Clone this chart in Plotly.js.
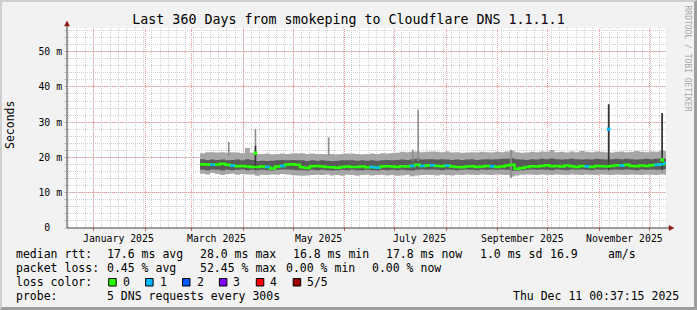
<!DOCTYPE html>
<html><head><meta charset="utf-8">
<script src="https://cdn.plot.ly/plotly-3.0.1.min.js"></script>
<style>
html,body{margin:0;padding:0;background:#f2f2f2;}
#wrap{position:relative;width:697px;height:310px;overflow:hidden;}
#chart{position:absolute;left:0;top:0;width:697px;height:310px;}
#frame{position:absolute;left:0;top:0;width:697px;height:310px;box-sizing:border-box;border-top:2px solid #cfcfcf;border-left:2px solid #cfcfcf;border-right:3px solid #9e9e9e;border-bottom:3px solid #9e9e9e;pointer-events:none;}
#chart .layer-below .shapelayer path{shape-rendering:crispEdges !important;}
#chart .gridlayer path{shape-rendering:crispEdges !important;}
</style></head><body>
<div id="wrap"><div id="chart"></div><div id="frame"></div></div>
<script>
// ---- data (ms) ----
const sampleStart = '2025-03-06';
const sampleStepDays = 3;
const rttOuterHigh = [21.2,21.5,21.5,21.4,21.5,21.3,21.5,21.4,21.2,22.7,
  21.3,21.0,21.0,21.1,20.9,21.0,21.1,21.0,21.1,21.2,
  21.2,21.0,21.1,21.0,21.0,20.9,21.0,20.9,21.0,21.1,
  21.1,21.0,20.9,21.0,21.1,21.0,21.2,21.1,21.2,21.3,
  21.6,21.5,21.6,21.7,21.5,21.6,21.7,21.6,21.5,21.7,
  21.4,21.5,21.3,21.4,21.5,21.4,21.6,21.5,21.4,21.6,
  21.5,21.7,22.0,21.5,21.3,21.4,21.6,21.5,21.7,21.6,
  22.1,21.5,21.6,21.4,21.7,21.5,21.8,21.6,21.5,21.7,
  21.6,21.5,21.4,21.6,21.7,21.5,21.6,21.8,21.6,21.5,
  21.7,21.6,22.0,21.8];
const rttOuterLow = [15.4,15.2,15.6,15.3,15.0,15.3,15.4,15.1,15.3,15.2,
  15.2,14.8,15.1,15.0,15.2,15.1,15.3,15.2,15.0,14.9,
  14.8,14.9,15.0,15.1,15.0,15.2,14.9,15.0,14.8,15.1,
  15.0,14.8,15.0,15.1,14.9,15.0,15.1,14.9,15.0,14.8,
  14.9,15.0,14.7,14.9,15.0,15.1,15.0,14.9,15.1,15.0,
  14.9,15.1,15.0,15.2,15.1,15.0,15.2,15.1,15.0,15.2,
  15.1,15.0,14.6,14.9,15.1,15.2,15.1,15.0,15.2,15.1,
  15.0,15.2,15.1,15.0,15.2,15.1,15.0,15.2,15.1,15.0,
  15.2,15.1,15.0,15.2,15.1,15.0,15.2,15.1,15.0,15.2,
  15.1,15.0,15.2,15.1];
const rttInnerHigh = [19.5,19.3,19.4,19.3,19.4,19.2,19.3,19.4,19.2,19.5,
  19.3,19.0,19.1,19.0,19.1,19.2,19.3,19.2,19.3,19.2,
  19.2,19.0,19.2,19.1,19.2,19.1,19.0,19.1,19.2,19.2,
  19.2,19.1,19.2,19.1,19.2,19.1,19.2,19.3,19.2,19.3,
  19.4,19.3,19.5,19.6,19.4,19.5,19.5,19.4,19.5,19.4,
  19.3,19.4,19.3,19.4,19.5,19.3,19.4,19.5,19.4,19.5,
  19.6,19.6,19.8,19.5,19.4,19.3,19.5,19.4,19.6,19.5,
  19.7,19.5,19.4,19.5,19.6,19.5,19.4,19.5,19.4,19.6,
  19.5,19.4,19.5,19.6,19.5,19.6,19.5,19.4,19.5,19.6,
  19.5,19.6,19.7,19.6];
const rttInnerLow = [16.5,16.4,16.6,16.5,16.3,16.5,16.4,16.5,16.6,16.4,
  16.5,16.4,16.5,16.4,16.3,16.5,16.6,16.6,16.5,16.4,
  16.4,16.3,16.5,16.4,16.5,16.4,16.3,16.4,16.5,16.4,
  16.5,16.4,16.4,16.5,16.4,16.3,16.5,16.4,16.5,16.4,
  16.5,16.4,16.3,16.5,16.6,16.5,16.6,16.5,16.4,16.6,
  16.5,16.4,16.5,16.6,16.5,16.4,16.6,16.5,16.6,16.5,
  16.6,16.5,16.2,16.3,16.4,16.5,16.6,16.5,16.6,16.5,
  16.4,16.6,16.5,16.4,16.6,16.5,16.6,16.5,16.4,16.6,
  16.5,16.6,16.5,16.6,16.5,16.6,16.5,16.4,16.6,16.5,
  16.6,16.5,16.6,16.7];
const rttMedian = [18.1,18.0,17.9,18.0,18.2,17.9,17.7,17.5,17.6,17.4,
  17.3,17.3,17.4,17.3,16.9,17.4,17.6,18.0,18.1,17.9,
  17.2,17.0,17.5,17.6,17.4,17.3,17.2,17.1,17.3,17.4,
  17.3,17.3,17.4,17.2,17.3,17.1,17.4,17.5,17.4,17.3,
  17.5,17.4,17.6,17.9,17.6,17.7,17.8,17.6,17.5,17.7,
  17.4,17.3,17.2,17.4,17.5,17.3,17.4,17.6,17.5,17.3,
  17.4,17.7,17.9,16.8,17.0,17.3,17.5,17.4,17.6,17.8,
  17.5,17.6,17.4,17.7,17.5,17.3,17.6,17.5,17.3,17.6,
  17.5,17.4,17.6,17.8,17.7,17.9,17.6,17.5,17.7,17.6,
  17.8,17.9,18.1,18.4];
const lossLevel = [0,0,1,0,0,0,1,0,0,0,
  0,0,0,1,0,0,1,0,0,0,
  0,0,0,0,0,0,0,0,0,0,
  0,0,0,0,1,1,0,0,0,0,
  0,0,1,0,1,0,1,0,0,1,
  0,0,0,0,0,0,0,0,1,0,
  0,0,0,0,0,0,0,0,0,0,
  0,0,0,0,0,0,0,1,0,0,
  0,0,0,0,1,0,0,0,0,0,
  0,1,1,1];
// isolated spikes
const spikeDates = ['2025-03-23 06:00','2025-04-08 07:00','2025-05-22 07:00','2025-07-11 19:00','2025-07-15 02:00','2025-09-08 22:00','2025-11-06 14:00','2025-12-08 17:00'];
const spikeLow = [20.5,15.5,20.5,19.0,19.0,14.2,16.0,16.0];
const spikeGrayTop = [24.4,28.1,25.7,22.2,33.5,22.2,35.2,32.6];
const spikeDarkTop = [null,23.3,null,null,null,null,35.0,32.6];
const spikeMedian = [null,21.2,null,null,null,null,28.0,19.3];
const spikeLoss = [0,0,0,0,0,0,1,0];

const lossColors = ['#26ff00','#00b8ff','#0059ff','#7e00ff','#ff0000','#a10000'];
const lossNames = ['0','1','2','3','4','5/5'];

const rangeStart = '2024-12-16 00:37:15';
const rangeEnd = '2025-12-11 00:37:15';
const monthGrid = ['2025-01-01','2025-02-01','2025-03-01','2025-04-01','2025-05-01','2025-06-01','2025-07-01','2025-08-01','2025-09-01','2025-10-01','2025-11-01','2025-12-01'];
const monthLabelDates = ['2025-01-16','2025-03-16','2025-05-16','2025-07-16','2025-09-16','2025-11-16'];
const monthLabels = ['January 2025','March 2025','May 2025','July 2025','September 2025','November 2025'];
const yMajorVals = [10,20,30,40,50];
const yTickVals = [0,2,4,6,8,10,12,14,16,18,20,22,24,26,28,30,32,34,36,38,40,42,44,46,48,50,52,54,56];
const yTickText = ['0\u00a0\u00a0','','','','','10 m','','','','','20 m','','','','','30 m','','','','','40 m','','','','','50 m','','',''];

const titleText = 'Last 360 Days from smokeping to Cloudflare DNS 1.1.1.1';
const rttRow = ['median rtt:','17.6 ms avg','28.0 ms max','16.8 ms min','17.8 ms now','1.0 ms sd','16.9','am/s'];
const lossRow = ['packet loss:','0.45 % avg','52.45 % max','0.00 % min','0.00 % now'];
const probeRow = ['probe:','5 DNS requests every 300s'];
const stampText = 'Thu Dec 11 00:37:15 2025';

// ---- build ----
function dayAdd(s,d){ const t = Date.parse(s+'T00:00:00Z') + d*864e5; return new Date(t).toISOString().slice(0,19).replace('T',' '); }
const n = rttMedian.length;
const dates = [];
for (let k=0;k<=n;k++) dates.push(dayAdd(sampleStart, k*sampleStepDays));
const ext = a => a.concat([a[a.length-1]]);

const L = 67, R = 31, T = 28, B = 82, W = 697, H = 310;
const PW = W-L-R, PH = H-T-B;
const px = x => (x-L)/PW;
const py = y => (H-B-y)/PH;

const MONO = 'DejaVu Sans Mono';
const light = '#a6a6a6', dark = '#5a5a5a';
const step = {shape:'hv', width:0};

const traces = [
  {x:dates, y:ext(rttOuterLow), mode:'lines', line:step, hoverinfo:'skip', showlegend:false},
  {x:dates, y:ext(rttOuterHigh), mode:'lines', line:step, fill:'tonexty', fillcolor:light, hoverinfo:'skip', showlegend:false},
  {x:dates, y:ext(rttInnerLow), mode:'lines', line:step, hoverinfo:'skip', showlegend:false},
  {x:dates, y:ext(rttInnerHigh), mode:'lines', line:step, fill:'tonexty', fillcolor:dark, hoverinfo:'skip', showlegend:false}
];
// spikes
const sgx=[], sgy=[], sdx=[], sdy=[];
spikeDates.forEach((d,i)=>{
  sgx.push(d,d,null); sgy.push(spikeLow[i], spikeGrayTop[i], null);
  if (spikeDarkTop[i]!==null){ sdx.push(d,d,null); sdy.push(16.5, spikeDarkTop[i], null); }
});
traces.push({x:sgx, y:sgy, mode:'lines', line:{color:'#8c8c8c', width:1.6}, hoverinfo:'skip', showlegend:false});
traces.push({x:sdx, y:sdy, mode:'lines', line:{color:'#333333', width:1.6}, hoverinfo:'skip', showlegend:false});
// median
traces.push({x:dates, y:ext(rttMedian), mode:'lines', line:{shape:'hv', color:lossColors[0], width:2.5}, hoverinfo:'skip', showlegend:false});
for (let lv=1; lv<lossColors.length; lv++){
  const xs=[], ys=[];
  for (let k=0;k<n;k++) if (lossLevel[k]===lv){ xs.push(dates[k], dates[k+1], null); ys.push(rttMedian[k], rttMedian[k], null); }
  if (xs.length) traces.push({x:xs, y:ys, mode:'lines', line:{color:lossColors[lv], width:2.5}, hoverinfo:'skip', showlegend:false});
}
// spike medians
const smx=[], smy=[], smc=[];
spikeDates.forEach((d,i)=>{ if (spikeMedian[i]!==null){ smx.push(d); smy.push(spikeMedian[i]); smc.push(lossColors[spikeLoss[i]]); }});
traces.push({x:smx, y:smy, mode:'markers', marker:{symbol:'square', size:3.5, color:smc, line:{width:0}}, hoverinfo:'skip', showlegend:false});

// annotations
const ann = [];
const txt = (x,y,t,size,extra) => ann.push(Object.assign({xref:'paper', yref:'paper', x:px(x), y:py(y), text:t, showarrow:false, xanchor:'left', yanchor:'middle', borderpad:0, font:{family:MONO, size:size, color:'#000'}}, extra||{}));
monthLabelDates.forEach((d,i)=> ann.push({xref:'x', yref:'paper', x:d, y:py(238), text:monthLabels[i], showarrow:false, xanchor:'center', yanchor:'middle', borderpad:0, font:{family:MONO, size:9.8, color:'#000'}}));
txt(10,125,'Seconds',11.5,{xanchor:'center', textangle:-90});
txt(687,58.5,'RRDTOOL / TOBI OETIKER',8,{xanchor:'center', textangle:90, font:{family:MONO, size:8, color:'#a8a8a8'}});
const rttX = [16,107.3,200,293.3,385.7,480,550,608.3];
rttRow.forEach((t,i)=>txt(rttX[i]-1,254.3,t,11.5));
const lossX = [16,107.3,200,286,372.3];
lossRow.forEach((t,i)=>txt(lossX[i]-1,267.7,t,11.5));
txt(15,282.3,'loss color:',11.5);
const shapes = [];
const majorGrid = '#f29c9c', minorGrid = '#d0d0d0';
// month (major) grid lines and ticks, placed on the date axis
monthGrid.forEach(d=>{
  shapes.push({type:'line', layer:'below', xref:'x', yref:'paper', x0:d, x1:d, y0:0, y1:1, line:{color:majorGrid, width:1, dash:'1px,1px'}});
  shapes.push({type:'line', layer:'below', xref:'x', yref:'paper', x0:d, x1:d, y0:0, y1:-3/PH, line:{color:'#d06060', width:1}});
});
yMajorVals.forEach(v=>{
  shapes.push({type:'line', layer:'below', xref:'paper', yref:'y', x0:-3/PW, x1:1, y0:v, y1:v, line:{color:majorGrid, width:1, dash:'1px,1px'}});
});
lossColors.forEach((c,i)=>{
  const bx = 108.7 + i*36.9;
  shapes.push({type:'rect', xref:'paper', yref:'paper', x0:px(bx), x1:px(bx+7.5), y0:py(286), y1:py(278.5), fillcolor:c, line:{color:'#000', width:1}});
  txt(bx+13,282.3,lossNames[i],11.5);
});
txt(15,295.7,probeRow[0],11.5);
txt(106.3,295.7,probeRow[1],11.5);
txt(512.3,295.7,stampText,11.5);

// axis lines & arrows
const arrowCol = '#8e1a1a';
shapes.push({type:'line', xref:'paper', yref:'paper', x0:px(67), x1:px(67), y0:py(228), y1:py(25), line:{color:'#404040', width:1}});
shapes.push({type:'line', xref:'paper', yref:'paper', x0:px(67), x1:px(669), y0:py(228), y1:py(228), line:{color:'#404040', width:1}});
shapes.push({type:'path', xref:'paper', yref:'paper', path:`M ${px(64.5)} ${py(26)} L ${px(69.5)} ${py(26)} L ${px(67)} ${py(21)} Z`, fillcolor:arrowCol, line:{color:arrowCol, width:0.5}});
shapes.push({type:'path', xref:'paper', yref:'paper', path:`M ${px(669)} ${py(225.5)} L ${px(669)} ${py(230.5)} L ${px(674)} ${py(228)} Z`, fillcolor:arrowCol, line:{color:arrowCol, width:0.5}});

const layout = {
  width:W, height:H, margin:{l:L, r:R, t:T, b:B},
  paper_bgcolor:'#f2f2f2', plot_bgcolor:'#ffffff',
  showlegend:false,
  title:{text:titleText, x:0.5, xref:'container', xanchor:'center', y:1-19/H, yref:'container', yanchor:'middle', font:{family:MONO, size:13.3, color:'#000'}},
  xaxis:{type:'date', range:[rangeStart, rangeEnd], tickmode:'linear', tick0:'2025-01-01', dtick:5*864e5, showticklabels:false,
    ticks:'', showgrid:true, gridcolor:minorGrid, griddash:'1px,1px', gridwidth:1,
    showline:false, zeroline:false, fixedrange:true},
  yaxis:{range:[0,56.7], tickmode:'array', tickvals:yTickVals, ticktext:yTickText, ticks:'outside', ticklen:2, tickcolor:'#c8c8c8',
    showgrid:true, gridcolor:minorGrid, griddash:'1px,1px', gridwidth:1,
    showline:false, zeroline:false, fixedrange:true, tickfont:{family:MONO, size:9.8, color:'#000'}},
  annotations:ann, shapes:shapes
};
Plotly.newPlot('chart', traces, layout, {staticPlot:true, displayModeBar:false});
</script></body></html>
